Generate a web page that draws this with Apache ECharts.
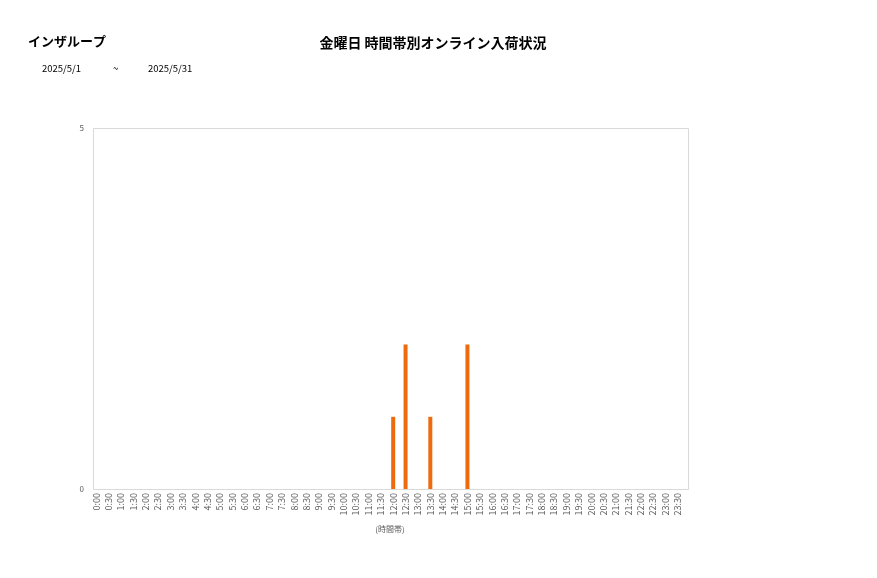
<!DOCTYPE html>
<html>
<head>
<meta charset="utf-8">
<script src="https://cdn.jsdelivr.net/npm/echarts@6/dist/echarts.min.js"></script>
<style>
  html, body { margin: 0; padding: 0; background: #fff; }
  #main { width: 877px; height: 578px; }
</style>
</head>
<body>
<div id="main"></div>
<script>
// time slots 0:00 .. 23:30
var timeSlots = ['0:00','0:30','1:00','1:30','2:00','2:30','3:00','3:30','4:00','4:30','5:00','5:30',
  '6:00','6:30','7:00','7:30','8:00','8:30','9:00','9:30','10:00','10:30','11:00','11:30',
  '12:00','12:30','13:00','13:30','14:00','14:30','15:00','15:30','16:00','16:30','17:00','17:30',
  '18:00','18:30','19:00','19:30','20:00','20:30','21:00','21:30','22:00','22:30','23:00','23:30'];
var arrivals = [0,0,0,0,0,0,0,0,0,0,0,0,
  0,0,0,0,0,0,0,0,0,0,0,0,
  1,2,0,1,0,0,2,0,0,0,0,0,
  0,0,0,0,0,0,0,0,0,0,0,0];
var shopName = 'インザループ';
var chartTitle = '金曜日 時間帯別オンライン入荷状況';
var dateFrom = '2025/5/1';
var dateTo = '2025/5/31';

var chart = echarts.init(document.getElementById('main'));
var font = '"Noto Sans CJK JP", "Noto Sans", sans-serif';

chart.setOption({
  animation: false,
  textStyle: { fontFamily: font },
  graphic: [
    { type: 'text', left: 28, top: 35, style: { text: shopName, font: 'bold 13px ' + font, fill: '#000' } },
    { type: 'text', left: 42, top: 64, style: { text: dateFrom, font: '9.5px ' + font, fill: '#000' } },
    { type: 'text', left: 113, top: 64, style: { text: '~', font: '9.5px ' + font, fill: '#000' } },
    { type: 'text', left: 148, top: 64, style: { text: dateTo, font: '9.5px ' + font, fill: '#000' } },
    // plot frame
    { type: 'rect', z: -1, shape: { x: 93.5, y: 128.5, width: 595, height: 361 },
      style: { fill: null, stroke: '#d9d9d9', lineWidth: 1 } }
  ],
  title: {
    text: chartTitle,
    left: 428, top: 31, textAlign: 'center',
    textStyle: { fontSize: 14, fontWeight: 'bold', color: '#000', fontFamily: font }
  },
  grid: {
    left: 90, top: 128, width: 594, height: 361
  },
  xAxis: {
    type: 'category',
    data: timeSlots,
    name: '(時間帯)',
    nameLocation: 'middle',
    nameGap: 36,
    nameTextStyle: { fontSize: 8, color: '#595959', padding: [0, 0, 0, 6] },
    axisLine: { show: false },
    axisTick: { show: false },
    axisLabel: { interval: 0, rotate: 90, fontSize: 9, color: '#595959', margin: 4 }
  },
  yAxis: {
    type: 'value',
    min: 0, max: 5, interval: 5,
    splitLine: { show: false },
    axisLine: { show: false },
    axisTick: { show: false },
    axisLabel: { fontSize: 8, color: '#595959', margin: 6 }
  },
  series: [{
    type: 'bar',
    data: arrivals,
    barWidth: 4,
    itemStyle: { color: '#ED6A0E' }
  }]
});
</script>
</body>
</html>
